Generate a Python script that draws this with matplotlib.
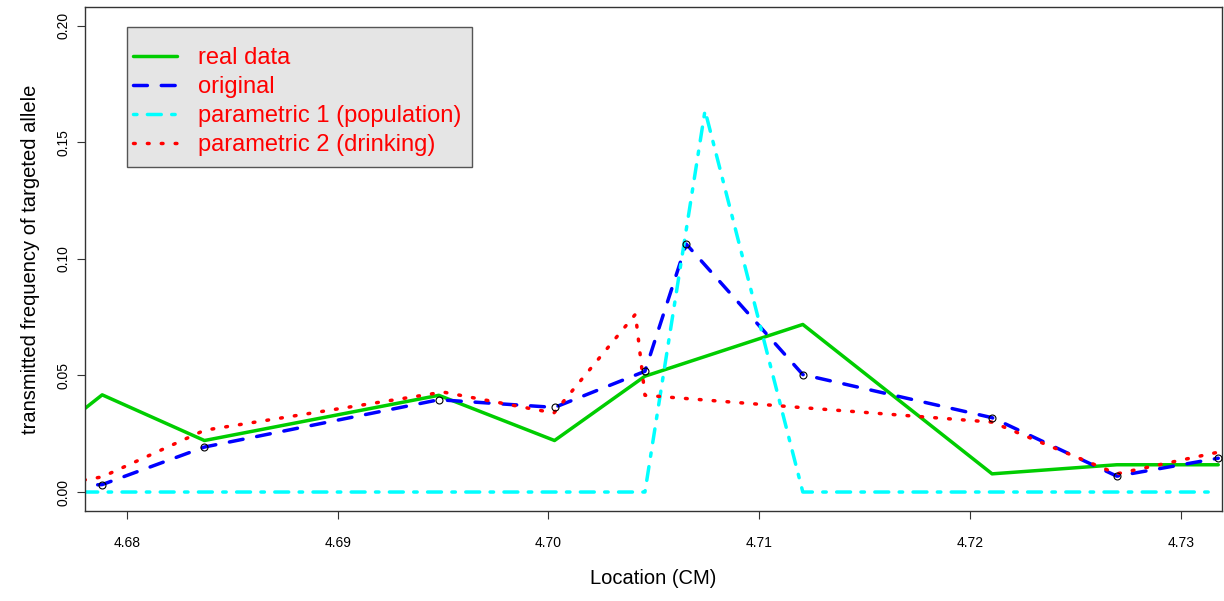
"""
Transmitted allele frequency along the region, real data vs. simulated
"""

import numpy as np
import matplotlib
matplotlib.use('Agg')
import matplotlib.pyplot as plt
from matplotlib.patches import Rectangle

plt.rcParams['font.family'] = ['Liberation Sans', 'DejaVu Sans']

# values (first x lies just left of the shown range)
x_real = [4.6773, 4.67883, 4.68368, 4.6948, 4.70029, 4.70458, 4.71207,
          4.72105, 4.72697, 4.73178]
y_real = [0.0308, 0.0417, 0.0221, 0.0415, 0.0221, 0.0497, 0.0719,
          0.0078, 0.0117, 0.0117]

x_orig = [4.6773, 4.67883, 4.68368, 4.6948, 4.70029, 4.70458, 4.70654,
          4.71207, 4.72105, 4.72697, 4.73178]
y_orig = [0.0025, 0.0032, 0.0193, 0.0396, 0.0363, 0.0518, 0.1064,
          0.0504, 0.0319, 0.0068, 0.0145]

x_par1 = [4.6773, 4.70458, 4.70743, 4.71207, 4.73178]
y_par1 = [0.0, 0.0, 0.1637, 0.0, 0.0]

x_par2 = [4.6773, 4.67883, 4.68368, 4.6950, 4.70026, 4.70413, 4.70458,
          4.71207, 4.72105, 4.72697, 4.73178]
y_par2 = [0.0041, 0.0065, 0.0265, 0.0429, 0.0339, 0.0763, 0.0415,
          0.0362, 0.0300, 0.0078, 0.0171]

labels = ['real data', 'original', 'parametric 1 (population)',
          'parametric 2 (drinking)']
xticks = [4.68, 4.69, 4.70, 4.71, 4.72, 4.73]
yticks = [0.00, 0.05, 0.10, 0.15, 0.20]

W, H = 1224, 601
fig = plt.figure(figsize=(W / 100, H / 100), dpi=100)
ax = fig.add_axes([0.0692, 0.1503, 0.9292, 0.8376])

lw = 2.5
kw = dict(lw=lw, solid_capstyle='round', dash_capstyle='round',
          solid_joinstyle='round', dash_joinstyle='round')
ax.plot(x_real, y_real, color='#00CD00', ls='-', label=labels[0], **kw)
ax.plot(x_orig, y_orig, color='#0000FF', dashes=(4, 4), label=labels[1], **kw)
ax.plot(x_par1, y_par1, color='#00FFFF', dashes=(1, 3, 4, 3), label=labels[2], **kw)
ax.plot(x_par2, y_par2, color='#FF0000', dashes=(0.5, 3.5), label=labels[3], **kw)
ax.plot(x_orig, y_orig, 'o', ms=5, mfc='none', mec='black', mew=0.8, zorder=3)

ax.set_xlim(4.678, 4.73196)
ax.set_ylim(-0.008, 0.208)
ax.set_xticks(xticks)
ax.set_xticklabels([f'{v:.2f}' for v in xticks])
ax.set_yticks(yticks)
ax.set_yticklabels([f'{v:.2f}' for v in yticks], rotation=90, va='center')
ax.tick_params(axis='x', length=6, width=0.8, pad=12, labelsize=10, color='#333333')
ax.tick_params(axis='y', length=6, width=0.8, pad=4, labelsize=10, color='#333333')
for s in ax.spines.values():
    s.set_color('#333333')
    s.set_linewidth(1.0)

ax.set_xlabel('Location (CM)', fontsize=14.5, labelpad=14)
ax.set_ylabel('transmitted frequency of targeted allele', fontsize=14.5, labelpad=12)

# legend box in the R style: grey, opaque, wider than its contents
box = Rectangle((126.7 / W, 1 - 167.3 / H), (472.3 - 126.7) / W, (167.3 - 26.7) / H,
                transform=fig.transFigure, facecolor='#E5E5E5', edgecolor='#555555',
                lw=1.0, zorder=4.9, clip_on=False)
ax.add_artist(box)

leg = ax.legend(loc='upper left', bbox_to_anchor=(132.7 / W, 1 - 47.5 / H),
                bbox_transform=fig.transFigure, borderaxespad=0, borderpad=0,
                fontsize=17, handlelength=1.86, handletextpad=0.92, labelspacing=0.29,
                frameon=False, labelcolor='#FF0000')
leg.set_zorder(5)

plt.savefig('out.png', dpi=100)
